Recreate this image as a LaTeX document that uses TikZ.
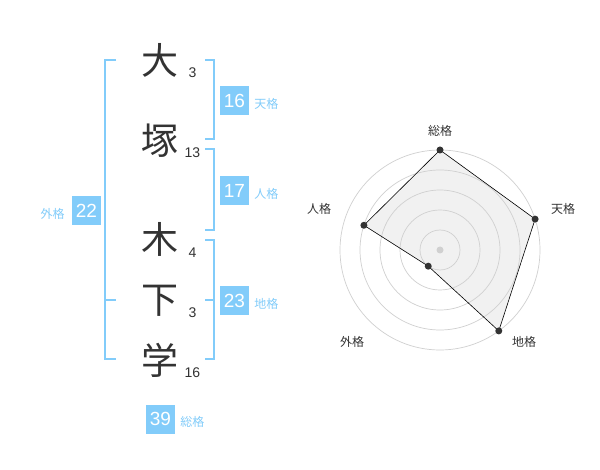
\documentclass[tikz,border=0pt]{standalone}
\usepackage{fontspec}
\setmainfont{Liberation Sans}
\newfontfamily\jpfont{Noto Sans CJK JP}
\usepackage{tikz}
\usetikzlibrary{positioning}
\definecolor{kakublue}{RGB}{130,204,250}
\definecolor{inkgray}{RGB}{51,51,51}
\definecolor{ringgray}{RGB}{208,208,208}
\definecolor{areagray}{RGB}{241,241,241}
\tikzstyle{moji}=[font=\jpfont\fontsize{37}{37}\selectfont,text=inkgray,inner sep=0mm]
\tikzstyle{kakusu}=[font=\fontsize{14}{14}\selectfont,text=inkgray,inner sep=0mm]
\tikzstyle{kakubox}=[rectangle,fill=kakublue,text=white,inner sep=0mm,minimum size=29pt,font=\fontsize{19}{19}\selectfont]
\tikzstyle{kakuname}=[font=\jpfont\fontsize{12}{12}\selectfont,text=kakublue,inner sep=0mm]
\tikzstyle{bracket}=[draw=kakublue,line width=2pt]
\tikzstyle{ring}=[draw=ringgray,line width=0.7pt]
\tikzstyle{area}=[draw=black,line width=0.6pt]
\tikzstyle{dot}=[circle,fill=inkgray,inner sep=0mm,minimum size=7pt]
\tikzstyle{axisname}=[font=\jpfont\fontsize{12}{12}\selectfont,text=inkgray,inner sep=0mm]

\begin{document}
\begin{tikzpicture}[x=1pt,y=-1pt]
          \useasboundingbox[fill=white] (0,0) rectangle (600,470);
          % name
          \node[moji] at (160,60) (c1) {大};
          \node[moji] at (160,141) (c2) {塚};
          \node[moji] at (160,239) (c3) {木};
          \node[moji] at (160,301) (c4) {下};
          \node[moji] at (160,360) (c5) {学};
          \node[kakusu] at (192.5,73) (n1) {3};
          \node[kakusu] at (192.5,153) (n2) {13};
          \node[kakusu] at (192.5,253) (n3) {4};
          \node[kakusu] at (192.5,313) (n4) {3};
          \node[kakusu] at (192.5,373) (n5) {16};
          % brackets
          \draw[bracket] (116,60) -- (105,60) -- (105,359) -- (116,359);
          \draw[bracket] (105,300) -- (116,300);
          \draw[bracket] (205,60) -- (214,60) -- (214,139) -- (205,139);
          \draw[bracket] (205,149) -- (214,149) -- (214,230) -- (205,230);
          \draw[bracket] (205,240) -- (214,240) -- (214,359) -- (205,359);
          \draw[bracket] (205,300) -- (214,300);
          % kaku
          \node[kakubox] at (234.5,100.5) (ten) {16};
          \node[kakuname, right=5pt of ten, yshift=-3pt] (tenname) {天格};
          \node[kakubox] at (234.5,190.5) (jin) {17};
          \node[kakuname, right=5pt of jin, yshift=-3pt] (jinname) {人格};
          \node[kakubox] at (234.5,300.5) (chi) {23};
          \node[kakuname, right=5pt of chi, yshift=-3pt] (chiname) {地格};
          \node[kakubox] at (86.5,210.5) (gai) {22};
          \node[kakuname, left=7pt of gai, yshift=-3pt] (gainame) {外格};
          \node[kakubox] at (160.5,419) (sou) {39};
          \node[kakuname, right=5pt of sou, yshift=-3pt] (souname) {総格};
          % chart
          \begin{scope}[shift={(440,250)}]
            \foreach \ang/\val/\lx/\ly/\nm/\txt in {-90/100/0/-119.5/p1/総格,-18/100/123/-41/p2/天格,54/100/84/92/p3/地格,126/20/-88/92/p4/外格,-162/80/-121/-41/p5/人格} {
              \coordinate (\nm) at (\ang:\val);
              \node[axisname] at (\lx,\ly) (\nm name) {\txt};
            }
            \fill[areagray] (p1) -- (p2) -- (p3) -- (p4) -- (p5) -- cycle;
            \foreach \r in {20,40,60,80,100}
              \draw[ring] (0,0) circle (\r);
            \fill[ringgray] (0,0) circle (3.5);
            \draw[area] (p1) -- (p2) -- (p3) -- (p4) -- (p5) -- cycle;
            \foreach \nm in {p1,p2,p3,p4,p5}
              \node[dot] at (\nm) {};
          \end{scope}
        \end{tikzpicture}
\end{document}
